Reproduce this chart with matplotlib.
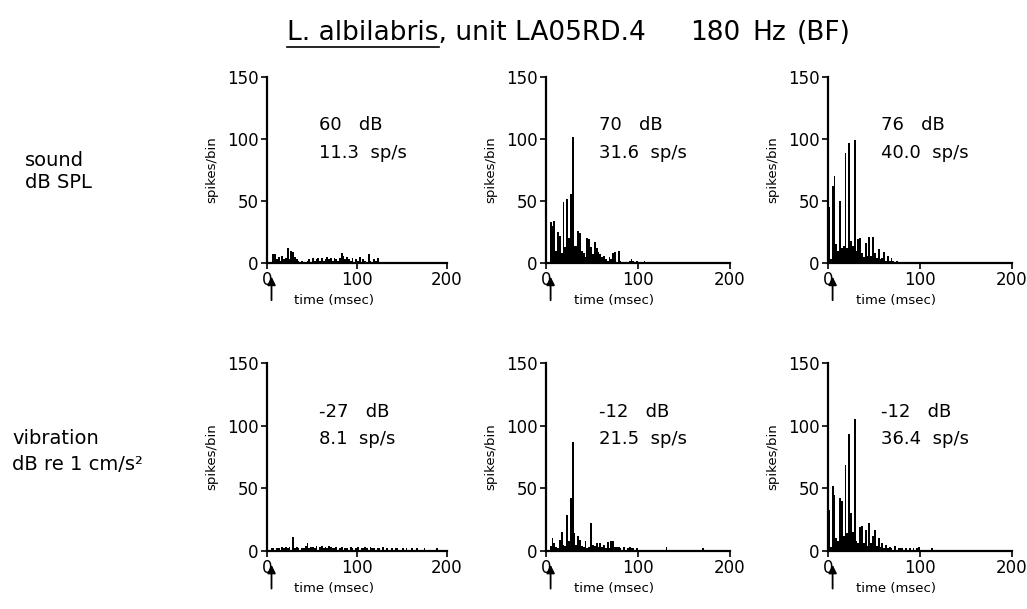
import numpy as np
import matplotlib
matplotlib.use("Agg")
import matplotlib.pyplot as plt
from matplotlib.lines import Line2D

plt.rcParams['font.family'] = ['DejaVu Sans']

# ---------------- data (2-ms bins, 0-200 ms) ----------------
bin_width = 2
bin_edges = np.arange(0, 200, bin_width)

sound_60 = [0, 0, 1, 7, 7, 3, 5, 2, 6, 3,
            4, 12, 3, 10, 9, 5, 3, 2, 1, 2,
            1, 1, 2, 3, 1, 4, 2, 3, 4, 2,
            4, 2, 3, 5, 3, 4, 2, 4, 3, 2,
            4, 8, 6, 3, 5, 3, 2, 4, 1, 3,
            2, 5, 1, 3, 2, 1, 7, 2, 1, 3,
            2, 4, 1, 1, 0, 1, 1, 0, 1, 1,
            0, 1, 1, 0, 1, 0, 1, 1, 0, 1,
            1, 0, 1, 0, 1, 1, 0, 1, 0, 1,
            1, 0, 1, 1, 0, 1, 0, 1, 1, 0]

sound_70 = [0, 1, 33, 30, 34, 10, 25, 22, 8, 49,
            13, 52, 20, 56, 102, 14, 14, 26, 24, 10,
            8, 5, 20, 19, 13, 7, 17, 12, 9, 7,
            5, 6, 3, 2, 5, 3, 8, 9, 1, 10,
            2, 0, 1, 1, 1, 2, 3, 2, 1, 2,
            1, 1, 0, 2, 1, 1, 0, 1, 1, 0,
            1, 0, 0, 1, 1, 0, 1, 0, 0, 1,
            0, 1, 0, 0, 1, 0, 0, 1, 0, 0,
            1, 0, 0, 0, 1, 0, 0, 0, 1, 0,
            0, 0, 1, 0, 0, 0, 1, 0, 0, 0]

sound_76 = [45, 3, 62, 70, 15, 10, 50, 12, 14, 89,
            12, 97, 18, 14, 99, 10, 19, 20, 8, 5,
            16, 6, 21, 6, 21, 8, 4, 11, 3, 4,
            9, 2, 6, 2, 4, 2, 1, 2, 1, 1,
            1, 0, 1, 1, 0, 1, 1, 0, 1, 0,
            0, 1, 0, 0, 1, 0, 0, 0, 1, 0,
            0, 0, 1, 0, 0, 0, 0, 1, 0, 0,
            0, 0, 0, 0, 0, 1, 0, 0, 0, 0,
            1, 0, 0, 0, 0, 0, 0, 0, 0, 0,
            0, 0, 0, 0, 0, 0, 0, 0, 0, 0]

vib_m27 = [0, 1, 2, 2, 1, 2, 2, 1, 3, 2,
           3, 2, 3, 1, 11, 2, 3, 2, 1, 2,
           2, 4, 6, 2, 3, 3, 2, 4, 1, 3,
           4, 2, 3, 2, 4, 3, 2, 2, 3, 1,
           2, 3, 1, 2, 2, 1, 3, 2, 1, 2,
           3, 1, 2, 2, 3, 2, 1, 3, 2, 2,
           1, 2, 2, 1, 3, 1, 2, 1, 1, 2,
           1, 2, 2, 1, 1, 2, 1, 2, 1, 1,
           2, 1, 1, 2, 1, 1, 1, 2, 1, 0,
           1, 1, 0, 1, 2, 1, 0, 1, 1, 1]

vib_m12a = [0, 0, 4, 10, 6, 3, 2, 9, 15, 5,
            4, 29, 8, 42, 87, 14, 5, 12, 9, 4,
            3, 8, 2, 3, 22, 5, 4, 6, 3, 6,
            3, 5, 2, 7, 2, 8, 8, 3, 3, 3,
            2, 1, 3, 1, 2, 3, 2, 2, 1, 2,
            1, 1, 1, 0, 1, 1, 0, 1, 1, 0,
            1, 0, 1, 1, 0, 3, 1, 0, 1, 0,
            0, 1, 0, 1, 0, 0, 1, 0, 0, 1,
            0, 1, 0, 0, 0, 2, 1, 0, 0, 0,
            1, 0, 0, 0, 1, 0, 0, 1, 0, 1]

vib_m12b = [33, 3, 52, 45, 10, 8, 42, 40, 12, 69,
            14, 93, 30, 15, 105, 8, 6, 19, 20, 6,
            17, 4, 22, 6, 12, 17, 4, 10, 3, 6,
            2, 5, 2, 3, 2, 1, 4, 1, 2, 2,
            2, 1, 2, 1, 2, 1, 2, 1, 2, 3,
            1, 0, 1, 0, 0, 0, 2, 1, 0, 0,
            0, 0, 0, 0, 0, 0, 0, 0, 0, 0,
            0, 0, 0, 0, 0, 0, 0, 0, 0, 0,
            0, 0, 0, 0, 0, 0, 0, 0, 0, 0,
            0, 0, 0, 0, 0, 0, 0, 0, 0, 0]

panel_series = [sound_60, sound_70, sound_76, vib_m27, vib_m12a, vib_m12b]
panel_level = ["60   dB", "70   dB", "76   dB", "-27   dB", "-12   dB", "-12   dB"]
panel_rate = ["11.3  sp/s", "31.6  sp/s", "40.0  sp/s", "8.1  sp/s", "21.5  sp/s", "36.4  sp/s"]

y_ticks = [0, 50, 100, 150]
x_ticks = [0, 100, 200]
stim_onset = 5

title_words = ["L. albilabris, unit LA05RD.4", "180", "Hz", "(BF)"]
title_species = "L. albilabris"
row_labels = [("sound", "dB SPL"), ("vibration", "dB re 1 cm/s\u00b2")]

# ---------------- figure ----------------
W, H = 1027, 609
fig = plt.figure(figsize=(W / 100, H / 100), dpi=100)

col_left = [267, 546, 828]
col_width = [180, 184, 184]
row_top = [77, 363]
row_bottom = [263, 551]

for i, vals in enumerate(panel_series):
    r, c = divmod(i, 3)
    left = col_left[c] / W
    bottom = 1 - row_bottom[r] / H
    width = col_width[c] / W
    height = (row_bottom[r] - row_top[r]) / H
    ax = fig.add_axes([left, bottom, width, height])
    ax.bar(bin_edges, vals, width=bin_width, align='edge', color='black', linewidth=0)
    ax.set_xlim(0, 200)
    ax.set_ylim(0, 150)
    for s in ['top', 'right']:
        ax.spines[s].set_visible(False)
    for s in ['left', 'bottom']:
        ax.spines[s].set_linewidth(1.6)
    ax.set_yticks(y_ticks)
    ax.set_xticks(x_ticks)
    ax.tick_params(axis='both', direction='out', length=4, width=1.2, labelsize=12, pad=2)
    ax.set_ylabel("spikes/bin", fontsize=9.5, labelpad=6)
    ax.set_xlabel("time (msec)", fontsize=9.5)
    ax.xaxis.set_label_coords(0.37, -0.165)
    ax.text(58, 111, panel_level[i], fontsize=13, ha='left', va='center')
    ax.text(58, 89, panel_rate[i], fontsize=13, ha='left', va='center')
    ax.annotate("", xy=(stim_onset, -11), xytext=(stim_onset, -30),
                xycoords='data', textcoords='data', annotation_clip=False,
                arrowprops=dict(arrowstyle='-|>', color='black', lw=1.3,
                                mutation_scale=12, shrinkA=0, shrinkB=0))

# row labels
fig.text(25 / W, 1 - 160 / H, row_labels[0][0], fontsize=14, ha='left', va='center')
fig.text(25 / W, 1 - 183 / H, row_labels[0][1], fontsize=14, ha='left', va='center')
fig.text(12 / W, 1 - 439 / H, row_labels[1][0], fontsize=14, ha='left', va='center')
fig.text(12 / W, 1 - 464 / H, row_labels[1][1], fontsize=14, ha='left', va='center')

# title pieces, with underlined species name
title_x = [287, 690, 752, 797]
ty = 1 - 33 / H
for word, xp in zip(title_words, title_x):
    fig.text(xp / W, ty, word, fontsize=19, ha='left', va='center')
tmp = fig.text(title_x[0] / W, ty, title_species, fontsize=19, ha='left', va='center')
fig.canvas.draw()
bb = tmp.get_window_extent(renderer=fig.canvas.get_renderer())
tmp.remove()
yline = (bb.y0 - 1) / H
fig.add_artist(Line2D([bb.x0 / W, bb.x1 / W], [yline, yline], transform=fig.transFigure,
                      color='black', lw=1.2))

fig.savefig("out.png", dpi=100)
